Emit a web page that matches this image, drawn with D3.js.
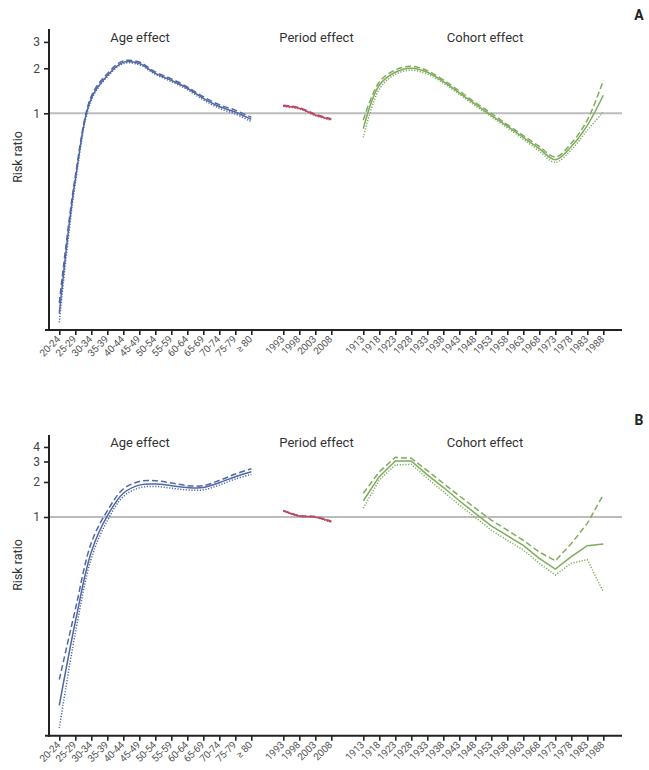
<!DOCTYPE html>
<html><head><meta charset="utf-8">
<script src="https://cdn.jsdelivr.net/npm/d3@7"></script>
<style>
html,body{margin:0;padding:0;background:#fff;}
svg{display:block;}
text{font-family:"Roboto","Liberation Sans",sans-serif;}
</style></head>
<body>
<svg id="chart" width="649" height="770"></svg>
<script>
// ---- categories ----
const ageLabels = ["20-24","25-29","30-34","35-39","40-44","45-49","50-54","55-59","60-64","65-69","70-74","75-79","\u2265 80"];
const periodLabels = ["1993","1998","2003","2008"];
const cohortLabels = ["1913","1918","1923","1928","1933","1938","1943","1948","1953","1958","1963","1968","1973","1978","1983","1988"];
const yTicksA = [1, 2, 3];
const yTicksB = [1, 2, 3, 4];

// ---- panel A values (risk ratio) ----
const ageA_solid  = [0.046, 0.36, 1.26, 1.79, 2.19, 2.15, 1.85, 1.66, 1.47, 1.26, 1.11, 1.02, 0.91];
const ageA_dashed = [0.054, 0.38, 1.30, 1.84, 2.24, 2.20, 1.89, 1.70, 1.50, 1.29, 1.14, 1.05, 0.94];
const ageA_dotted = [0.040, 0.34, 1.22, 1.75, 2.15, 2.11, 1.82, 1.63, 1.44, 1.23, 1.08, 0.99, 0.88];
const periodA_solid  = [1.12, 1.08, 0.975, 0.91];
const periodA_dashed = [1.13, 1.09, 0.985, 0.92];
const periodA_dotted = [1.11, 1.07, 0.965, 0.90];
const cohortA_solid  = [0.79, 1.54, 1.88, 2.00, 1.88, 1.63, 1.37, 1.15, 0.97, 0.82, 0.69, 0.58, 0.49, 0.60, 0.83, 1.32];
const cohortA_dashed = [0.90, 1.62, 1.95, 2.06, 1.93, 1.67, 1.41, 1.18, 1.00, 0.84, 0.71, 0.60, 0.51, 0.63, 0.90, 1.66];
const cohortA_dotted = [0.69, 1.45, 1.82, 1.94, 1.83, 1.59, 1.34, 1.12, 0.95, 0.80, 0.67, 0.56, 0.47, 0.57, 0.77, 1.02];

// ---- panel B values (risk ratio) ----
const ageB_solid  = [0.024, 0.125, 0.50, 1.02, 1.60, 1.88, 1.92, 1.86, 1.79, 1.79, 1.97, 2.22, 2.45];
const ageB_dashed = [0.040, 0.16, 0.60, 1.13, 1.74, 2.02, 2.05, 1.96, 1.86, 1.86, 2.06, 2.34, 2.60];
const ageB_dotted = [0.0153, 0.10, 0.44, 0.93, 1.50, 1.78, 1.83, 1.77, 1.71, 1.71, 1.88, 2.12, 2.32];
const periodB_solid  = [1.13, 1.02, 1.00, 0.91];
const periodB_dashed = [1.14, 1.03, 1.01, 0.92];
const periodB_dotted = [1.12, 1.01, 0.99, 0.90];
const cohortB_solid  = [1.38, 2.22, 3.03, 3.03, 2.30, 1.80, 1.38, 1.075, 0.84, 0.69, 0.57, 0.44, 0.357, 0.456, 0.567, 0.585];
const cohortB_dashed = [1.60, 2.45, 3.26, 3.20, 2.50, 1.95, 1.52, 1.19, 0.94, 0.77, 0.63, 0.50, 0.42, 0.59, 0.88, 1.55];
const cohortB_dotted = [1.19, 2.08, 2.80, 2.84, 2.15, 1.65, 1.27, 0.99, 0.77, 0.63, 0.52, 0.40, 0.317, 0.40, 0.43, 0.228];

const COL_AGE = "#5068a6", COL_PER = "#b84b5e", COL_COH = "#7eac5c";

const svg = d3.select("#chart");
const slots = [...ageLabels, "_g1", ...periodLabels, "_g2", ...cohortLabels];
const x = d3.scalePoint().domain(slots).range([59.3, 603.3]);

function panel(cfg) {
  const g = svg.append("g");
  const y = d3.scaleLog().domain(cfg.yDomain).range([cfg.bottom, cfg.top]);

  // reference line at 1
  g.append("line").attr("x1", 49).attr("x2", 622)
    .attr("y1", y(1)).attr("y2", y(1))
    .attr("stroke", "#bcbcbc").attr("stroke-width", 2);

  // y axis
  const ya = g.append("g").attr("transform", "translate(49,0)")
    .call(d3.axisLeft(y).tickValues(cfg.yTicks).tickFormat(d3.format("d")).tickSize(5).tickPadding(4));
  ya.select(".domain").remove();
  ya.selectAll(".tick line").attr("stroke", "#222").attr("stroke-width", 1.6);
  ya.selectAll(".tick text").attr("font-size", 12).attr("fill", "#444");
  g.append("line").attr("x1", 49).attr("x2", 49).attr("y1", cfg.top).attr("y2", cfg.bottom + 1)
    .attr("stroke", "#222").attr("stroke-width", 2);

  // x axis
  const xa = g.append("g").attr("transform", `translate(0,${cfg.bottom})`)
    .call(d3.axisBottom(x).tickValues(slots.filter(s => s[0] !== "_")).tickSize(5).tickPadding(2));
  xa.select(".domain").remove();
  xa.selectAll(".tick line").attr("stroke", "#222").attr("stroke-width", 1.6);
  xa.selectAll(".tick text").attr("font-size", 10).attr("fill", "#555")
    .attr("text-anchor", "end").attr("dy", null).attr("y", 0)
    .attr("letter-spacing", -0.2)
    .attr("transform", "translate(1,10) rotate(-45)");
  g.append("line").attr("x1", 45).attr("x2", 622).attr("y1", cfg.bottom).attr("y2", cfg.bottom)
    .attr("stroke", "#222").attr("stroke-width", 2);

  // titles
  const tY = cfg.titleY;
  [["Age effect", 140], ["Period effect", 316.5], ["Cohort effect", 485]].forEach(([t, cx]) => {
    g.append("text").attr("x", cx).attr("y", tY).attr("text-anchor", "middle")
      .attr("font-size", 13).attr("fill", "#333").text(t);
  });
  g.append("text").attr("x", 639).attr("y", cfg.letterY).attr("text-anchor", "middle")
    .attr("font-size", 14).attr("font-weight", "bold").attr("fill", "#222").text(cfg.letter);
  g.append("text").attr("transform", `translate(22,${cfg.labelY}) rotate(-90)`)
    .attr("text-anchor", "middle").attr("font-size", 12.5).attr("fill", "#333").text("Risk ratio");

  const styles = {
    solid:  { dash: null, w: 1.5 },
    dashed: { dash: "6,3", w: 1.5 },
    dotted: { dash: "1.2,1.6", w: 1.5 }
  };
  function draw(labels, values, color, style, curve) {
    const line = d3.line().x((d, i) => x(labels[i])).y(d => y(d)).curve(curve);
    g.append("path").attr("d", line(values)).attr("fill", "none")
      .attr("stroke", color).attr("stroke-width", styles[style].w)
      .attr("stroke-dasharray", styles[style].dash);
  }
  cfg.series.forEach(s => draw(s[0], s[1], s[2], s[3], s[4]));
}

const smooth = d3.curveCatmullRom.alpha(0.5), lin = d3.curveLinear;
panel({
  yDomain: [0.0356, 3.66], top: 29, bottom: 330, yTicks: yTicksA,
  titleY: 42, letterY: 20, letter: "A", labelY: 157,
  series: [
    [ageLabels, ageA_dashed, COL_AGE, "dashed", smooth],
    [ageLabels, ageA_dotted, COL_AGE, "dotted", smooth],
    [ageLabels, ageA_solid, COL_AGE, "solid", smooth],
    [periodLabels, periodA_dashed, COL_PER, "dashed", smooth],
    [periodLabels, periodA_dotted, COL_PER, "dotted", smooth],
    [periodLabels, periodA_solid, COL_PER, "solid", smooth],
    [cohortLabels, cohortA_dashed, COL_COH, "dashed", smooth],
    [cohortLabels, cohortA_dotted, COL_COH, "dotted", smooth],
    [cohortLabels, cohortA_solid, COL_COH, "solid", smooth]
  ]
});
panel({
  yDomain: [0.01316, 5.07], top: 435, bottom: 735.7, yTicks: yTicksB,
  titleY: 447, letterY: 425, letter: "B", labelY: 565,
  series: [
    [ageLabels, ageB_dashed, COL_AGE, "dashed", smooth],
    [ageLabels, ageB_dotted, COL_AGE, "dotted", smooth],
    [ageLabels, ageB_solid, COL_AGE, "solid", smooth],
    [periodLabels, periodB_dashed, COL_PER, "dashed", smooth],
    [periodLabels, periodB_dotted, COL_PER, "dotted", smooth],
    [periodLabels, periodB_solid, COL_PER, "solid", smooth],
    [cohortLabels, cohortB_dashed, COL_COH, "dashed", lin],
    [cohortLabels, cohortB_dotted, COL_COH, "dotted", lin],
    [cohortLabels, cohortB_solid, COL_COH, "solid", lin]
  ]
});
</script>
</body></html>
